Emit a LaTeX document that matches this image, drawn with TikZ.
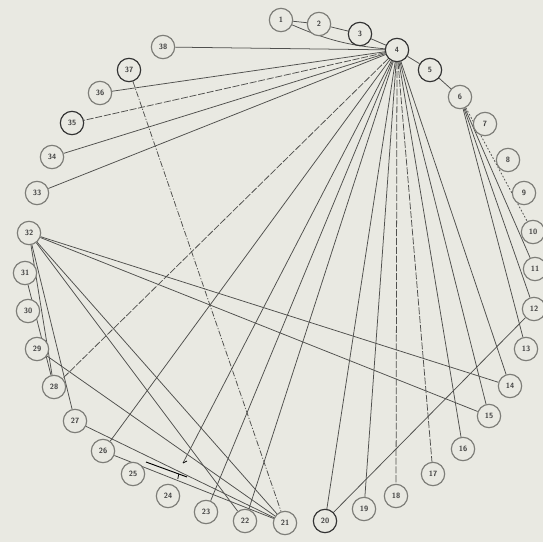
\documentclass[tikz,border=0pt]{standalone}
\usepackage{tikz}
\usetikzlibrary{positioning, calc, backgrounds}

\definecolor{paper}{RGB}{233,233,226}
\definecolor{ink}{RGB}{80,80,78}
\definecolor{ring}{RGB}{125,125,120}

\begin{document}
\begin{tikzpicture}[
  x=0.03cm, y=-0.03cm,
  font=\sffamily\bfseries\fontsize{6.5}{7}\selectfont,
  every node/.style={inner sep=0pt},
  vtx/.style={
    draw=ring, line width=1pt, circle, minimum size=7mm,
    fill=paper, text=black!75,
  },
  darkvtx/.style={vtx, draw=black!80, line width=1pt},
  link/.style={draw=ink, line width=0.65pt},
  brokenlink/.style={link, dash pattern=on 6pt off 1.5pt},
  dotlink/.style={link, dash pattern=on 1.5pt off 1.5pt},
  chainlink/.style={link, dash pattern=on 5pt off 1.5pt on 1pt off 1.5pt},
]

\useasboundingbox (0,0) rectangle (543,542);

% ── Vertices on the ring, clockwise from the top ──────────────────
\node[vtx]     (v1)  at (281,20)  {1};
\node[vtx]     (v2)  at (319,24)  {2};
\node[darkvtx] (v3)  at (360,34)  {3};
\node[darkvtx] (v4)  at (397,50)  {4};
\node[darkvtx] (v5)  at (430,70)  {5};
\node[vtx]     (v6)  at (460,97)  {6};
\node[vtx]     (v7)  at (485,124) {7};
\node[vtx]     (v8)  at (508,160) {8};
\node[vtx]     (v9)  at (524,193) {9};
\node[vtx]     (v10) at (533,232) {10};
\node[vtx]     (v11) at (535,269) {11};
\node[vtx]     (v12) at (534,309) {12};
\node[vtx]     (v13) at (526,349) {13};
\node[vtx]     (v14) at (510,386) {14};
\node[vtx]     (v15) at (489,416) {15};
\node[vtx]     (v16) at (463,449) {16};
\node[vtx]     (v17) at (433,474) {17};
\node[vtx]     (v18) at (396,496) {18};
\node[vtx]     (v19) at (364,509) {19};
\node[darkvtx] (v20) at (325,521) {20};
\node[vtx]     (v21) at (285,523) {21};
\node[vtx]     (v22) at (245,521) {22};
\node[vtx]     (v23) at (206,512) {23};
\node[vtx]     (v24) at (168,496) {24};
\node[vtx]     (v25) at (133,474) {25};
\node[vtx]     (v26) at (103,451) {26};
\node[vtx]     (v27) at (75,421)  {27};
\node[vtx]     (v28) at (54,387)  {28};
\node[vtx]     (v29) at (37,349)  {29};
\node[vtx]     (v30) at (28,311)  {30};
\node[vtx]     (v31) at (25,273)  {31};
\node[vtx]     (v32) at (29,233)  {32};
\node[vtx]     (v33) at (37,193)  {33};
\node[vtx]     (v34) at (52,157)  {34};
\node[darkvtx] (v35) at (72,123)  {35};
\node[vtx]     (v36) at (100,93)  {36};
\node[darkvtx] (v37) at (129,70)  {37};
\node[vtx]     (v38) at (163,47)  {38};

% ── Loose ends near 24/25 ──────────────────────────────────────────
\coordinate (cut)  at (183,463);
\coordinate (barL) at (146,462);
\coordinate (barR) at (187,477);

\begin{scope}[on background layer]
\fill[paper] (0,0) rectangle (543,542);

% ── Top chain ──────────────────────────────────────────────────────
\draw[link] (v1) -- (v2);
\draw[link] (v2) -- (v3);
\draw[link] (v3) -- (v4);
\draw[link] (v1) to[bend right=9] (v4);
\draw[link] (v4) -- (v5);
\draw[link] (v5) -- (v6);

% ── From 6 down the right side ─────────────────────────────────────
\draw[dotlink] (v6) -- (v10);
\draw[link] (v6) -- (v11);
\draw[link] (v6) -- (v12);
\draw[link] (v6) -- (v13);

% ── Hub 4 -> left arc ──────────────────────────────────────────────
\draw[link] (v4) -- (v38);
\draw[link] (v4) -- (v36);
\draw[brokenlink] (v4) -- (v35);
\draw[link] (v4) -- (v34);
\draw[link] (v4) -- (v33);
\draw[brokenlink] (v4) -- (v28);
\draw[link] (v4) -- (v26);
\draw[link] (v4) -- (cut);

% ── Hub 4 -> bottom arc ────────────────────────────────────────────
\draw[link] (v4) -- (v23);
\draw[link] (v4) -- (v22);
\draw[link] (v4) -- (v20);
\draw[link] (v4) -- (v19);
\draw[brokenlink] (v4) -- (v18);
\draw[brokenlink] (v4) -- (v17);
\draw[link] (v4) -- (v16);
\draw[link] (v4) -- (v15);
\draw[link] (v4) -- (v14);

% ── From 32 ────────────────────────────────────────────────────────
\draw[link] (v32) -- (v14);
\draw[link] (v32) -- (v15);
\draw[link] (v32) -- (v21);
\draw[link] (v32) -- (v22);
\draw[link] (v32) -- (v27);
\draw[link] (v32) -- (v28);
\draw[link] (v31) -- (v28);

% ── Into 21, and 12 -> 20 ──────────────────────────────────────────
\draw[chainlink] (v37) -- (v21);
\draw[link] (v29) -- (v21);
\draw[link] (v27) -- (v21);
\draw[link] (v26) -- (v21);
\draw[link] (v12) -- (v20);

% ── Stray bar with ticks ───────────────────────────────────────────
\draw[draw=black, line width=0.8pt] (barL) -- (barR);
\draw[draw=black, line width=0.6pt] (cut) -- ++(4,-2);
\draw[draw=black, line width=0.6pt] ($(barL)!0.8!(barR)$) -- ++(-1,5);
\end{scope}

\end{tikzpicture}
\end{document}
